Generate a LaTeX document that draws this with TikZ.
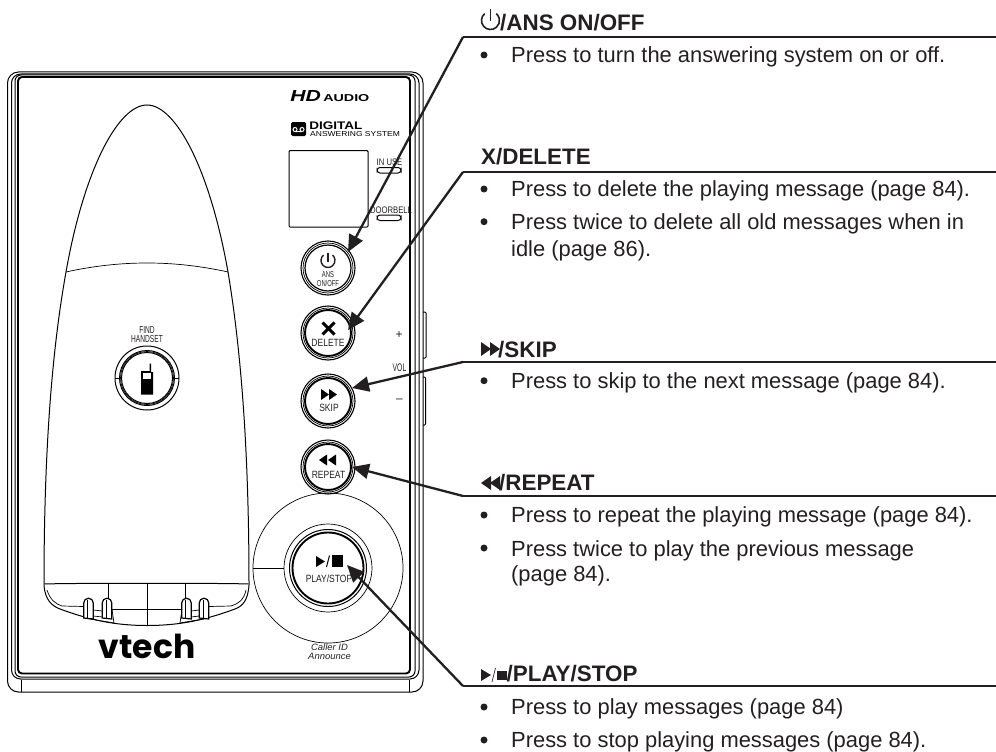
\documentclass[tikz,border=0pt]{standalone}
\usepackage{fontspec}
\setmainfont{Liberation Sans}
\newfontfamily\vtechfont{Poppins}
\usetikzlibrary{arrows.meta}
\definecolor{ink}{HTML}{231F20}
\tikzset{
 head/.style={anchor=base west,inner sep=0,font=\fontsize{22.4}{24}\selectfont\bfseries,text=ink},
 body/.style={anchor=base west,inner sep=0,font=\fontsize{21.9}{24}\selectfont,text=ink},
 bul/.style={circle,fill=ink,inner sep=0,minimum size=7pt},
 lead/.style={line width=2.3pt,draw=ink,-{Triangle[length=17pt,width=15pt]}},
 rule/.style={line width=2pt,draw=ink},
 lab/.style={inner sep=0,align=center,font=\fontsize{10.5}{10.5}\selectfont,xscale=.81,text=ink},
 thin/.style={line width=0.7pt},
 mid/.style={line width=1pt},
 heavy/.style={line width=1.9pt}
}
\begin{document}
\begin{tikzpicture}[x=1pt,y=-1pt]
\useasboundingbox (0,0) rectangle (996,752);
% device body
\draw[mid,rounded corners=11pt] (7.5,72) rectangle (423,692);
\draw[mid,rounded corners=9pt] (11.5,74) rectangle (419,679);
\draw[mid,rounded corners=6pt] (15,75) rectangle (415,677);
\draw[heavy,rounded corners=4pt] (18,77) rectangle (410,673.5);
\draw[thin] (21,680) -- (21,692) (409,680) -- (409,692);
\draw[mid,rounded corners=1pt] (423,312) -- (426,312) -- (426,358) -- (423,358);
\draw[mid,rounded corners=1pt] (423,377) -- (425.5,377) -- (425.5,425) -- (423,425);
% handset
\draw[mid] (147,105) .. controls (118,105) and (84,170) .. (66,272)
  .. controls (52,350) and (44,450) .. (44,585)
  .. controls (45,600) and (52,606) .. (60,609)
  .. controls (90,620) and (115,625.5) .. (147,625.5)
  .. controls (180,625.5) and (205,620) .. (235,609)
  .. controls (243,606) and (248,600) .. (249,585)
  .. controls (249,450) and (241,350) .. (228,272)
  .. controls (210,170) and (176,105) .. (147,105) -- cycle;
\draw[thin] (66,272) .. controls (120,260) and (174,260) .. (228,272);
\draw[mid] (44.5,584) .. controls (70,583) and (225,583) .. (248.5,584);
\draw[thin] (108,584) -- (108,604) (185,584) -- (185,604) (147,584) -- (147,625.5);
\draw[thin] (47,590) .. controls (50,600) and (56,604) .. (62,606) -- (84,606.5) (112,609.5) -- (182,609.5) (209,606.5) -- (231,606) .. controls (238,604) and (244,600) .. (246,590);
\draw[thin] (112,609.5) -- (114,623) (182,609.5) -- (180,623);
\draw[thin] (84,618) -- (114,623) (180,623) -- (209,618);
\foreach \x in {88.5,107,186.5,204}{
 \draw[line width=1.2pt,fill=white] (\x-4.8,618) -- (\x-4.8,603) arc[start angle=180,end angle=360,radius=4.8] -- (\x+4.8,619) -- cycle;
 \draw[thin] (\x-1,600) -- (\x-1,618);
}
\draw[thin] (93.3,610) -- (102.2,611) (93.3,616) -- (102.2,617) (191.3,611) -- (199.2,610) (191.3,617) -- (199.2,616);
% find handset
\node[lab,font=\fontsize{10.2}{9.4}\selectfont,xscale=.8] (find) at (147,334.5) {FIND\\HANDSET};
\node[circle,draw,mid,minimum size=64pt,inner sep=0] (fh) at (147,378) {};
\draw[mid] (147,378) circle[radius=27.5];
\draw[thin] (147,378) circle[radius=26.5];
\draw[mid] (147,378) circle[radius=25.5];
\draw[thin] (115,378) -- (122,378) (172,378) -- (179,378);
\fill (141,372) -- (141,394.5) -- (153,394.5) -- (153,372) -- (151,372) -- (151,363.5) -- (149.5,363.5) -- (149.5,371) -- (141,371) -- cycle;
\fill[white] (143,373) rectangle (151,379);
% logos
\node[inner sep=0,anchor=base west,xscale=1.32] (hd) at (290,102) {\fontsize{16}{16}\selectfont\bfseries\itshape HD};
\node[inner sep=0,anchor=base west,xscale=1.43] (aud) at (323,102) {\fontsize{10}{10}\selectfont\bfseries AUDIO};
\fill[rounded corners=1.5pt] (291,122) rectangle (306,136);
\draw[white,line width=1pt] (295,129.5) circle[radius=2] (302,129.5) circle[radius=2] (295,131.5) -- (302,131.5);
\node[inner sep=0,anchor=base west,xscale=1.23] (dig) at (309,129.5) {\fontsize{11}{11}\selectfont\bfseries DIGITAL};
\node[inner sep=0,anchor=base west,xscale=1.18] (ans) at (310,136.5) {\fontsize{7.2}{8}\selectfont ANSWERING SYSTEM};
\draw[mid,rounded corners=1pt] (289,150.7) rectangle (368,227);
\node[lab,font=\fontsize{9.5}{9.5}\selectfont,anchor=base] (inuse) at (389.5,165) {IN USE};
\draw[mid,rounded corners=3pt] (377,167.5) rectangle (401,173);
\node[lab,font=\fontsize{9.5}{9.5}\selectfont,anchor=base] (door) at (391,213) {DOORBELL};
\draw[mid,rounded corners=3pt] (377,215) rectangle (401,220.5);
\node[inner sep=0,text=ink,font=\fontsize{12}{12}\selectfont] (plus) at (399,335) {+};
\node[lab,font=\fontsize{11}{11}\selectfont,xscale=.76] (vol) at (399.5,368) {VOL};
\node[inner sep=0,text=ink,font=\fontsize{12}{12}\selectfont] (minus) at (399.5,401) {–};
% buttons
\foreach \n/\y in {a/268,d/333,s/401,r/467}{
 \node[circle,draw,line width=1.1pt,minimum size=54pt,inner sep=0] (\n) at (328,\y) {};
 \draw[thin] (328,\y) circle[radius=25];
}
\draw[line width=1.2pt] (328,268) circle[radius=23];
\draw[heavy] (328,333) circle[radius=23];
\draw[heavy] (328,401) circle[radius=23];
\draw[heavy] (328,467) circle[radius=23];
\draw[line width=1.4pt,ink] (323.5,255.1) arc[start angle=230,end angle=-50,radius=7];
\draw[line width=1.4pt,ink] (328,252.7) -- (328,262);
\node[lab,font=\fontsize{8.6}{9}\selectfont,xscale=.84] (al) at (328,279) {ANS\\ON/OFF};
\draw[line width=3pt] (322.5,322.5) -- (334.5,334.5) (334.5,322.5) -- (322.5,334.5);
\node[lab] (dl) at (328,343) {DELETE};
\fill (321,389) -- (329,394.5) -- (321,400) -- cycle (329,389) -- (337,394.5) -- (329,400) -- cycle;
\node[lab] (sl) at (329,408) {SKIP};
\fill (327,454.5) -- (319,460) -- (327,465.5) -- cycle (336,454.5) -- (328,460) -- (336,465.5) -- cycle;
\node[lab] (rl) at (328.5,475) {REPEAT};
% play
\node[circle,draw,thin,minimum size=150pt,inner sep=0] (big) at (328,568) {};
\node[circle,draw,thin,minimum size=88pt,inner sep=0] (pl) at (328,568) {};
\draw[mid] (328,568) circle[radius=38.5];
\draw[heavy] (328,568) circle[radius=35.5];
\draw[thin] (big.west) -- (pl.west);
\fill (316,556) -- (325,561.5) -- (316,567) -- cycle;
\draw[mid] (326.5,567) -- (329.5,555.5);
\fill (332,555) rectangle (343,567);
\node[lab] (pls) at (329,579) {PLAY/STOP};
\node[lab,font=\fontsize{9.2}{8.6}\selectfont\itshape,xscale=1.27] (cid) at (329.5,652) {Caller ID\\Announce};
\node[inner sep=0,anchor=base,text=black] (vt) at (147,658) {\vtechfont\fontsize{33}{33}\selectfont\bfseries vtech};
% leaders
\coordinate (c1) at (463,37); \coordinate (e1) at (996,37); \coordinate (t1) at (348,252);
\coordinate (c2) at (463,172); \coordinate (e2) at (996,172); \coordinate (t2) at (348,330);
\coordinate (c3) at (463,362); \coordinate (e3) at (996,362); \coordinate (t3) at (352,388);
\coordinate (c4) at (463,496); \coordinate (e4) at (996,496); \coordinate (t4) at (352,467);
\coordinate (c5) at (463,686); \coordinate (e5) at (996,686); \coordinate (t5) at (347,565);
\foreach \i in {1,...,5}{
 \draw[rule] (e\i) -- (c\i);
 \draw[lead] (c\i) -- (t\i);
}
% heading icons
\draw[line width=1.6pt,ink] (484.7,13.6) arc[start angle=230,end angle=-50,radius=9];
\draw[line width=1.6pt,ink] (490.5,9.5) -- (490.5,21);
\node[head] (h1) at (500,30.5) {/ANS ON/OFF};
\node[head] (h2) at (481,164) {X/DELETE};
\fill[ink] (481,342) -- (491,349) -- (481,356) -- cycle (490,342) -- (500,349) -- (490,356) -- cycle;
\node[head] (h3) at (498,357) {/SKIP};
\fill[ink] (491,476) -- (481,483) -- (491,490) -- cycle (500,476) -- (490,483) -- (500,490) -- cycle;
\node[head] (h4) at (499,490) {/REPEAT};
\fill[ink] (481,669) -- (491,675) -- (481,681) -- cycle;
\draw[ink,thin] (492,682) -- (495.5,668);
\fill[ink] (497,671) rectangle (507,680);
\node[head] (h5) at (506.5,681.7) {/PLAY/STOP};
% bodies
\node[bul] (b1) at (484,55) {}; \node[body] (t1a) at (511,63) {Press to turn the answering system on or off.};
\node[bul] (b2) at (484,189) {}; \node[body] (t2a) at (511,196.7) {Press to delete the playing message (page 84).};
\node[bul] (b3) at (484,221.7) {}; \node[body] (t2b) at (511,229.3) {Press twice to delete all old messages when in};
\node[body] (t2c) at (511,256) {idle (page 86).};
\node[bul] (b4) at (484,380.7) {}; \node[body] (t3a) at (511,388) {Press to skip to the next message (page 84).};
\node[bul] (b5) at (484,515) {}; \node[body] (t4a) at (511,522.7) {Press to repeat the playing message (page 84).};
\node[bul] (b6) at (484,548) {}; \node[body] (t4b) at (511,556) {Press twice to play the previous message};
\node[body] (t4c) at (511,581.7) {(page 84).};
\node[bul] (b7) at (484,707) {}; \node[body] (t5a) at (511,714.3) {Press to play messages (page 84)};
\node[bul] (b8) at (484,740) {}; \node[body] (t5b) at (511,747.7) {Press to stop playing messages (page 84).};
\end{tikzpicture}
\end{document}
